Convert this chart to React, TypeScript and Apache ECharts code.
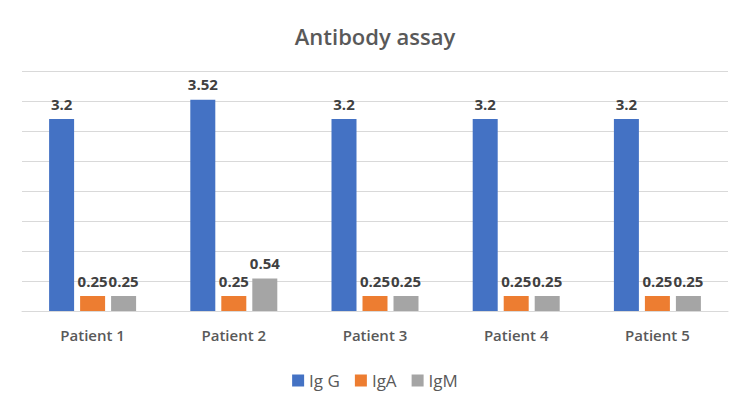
import React, { useEffect, useRef } from "react";
import * as echarts from "echarts";

const categories = ["Patient 1", "Patient 2", "Patient 3", "Patient 4", "Patient 5"];
const igG = [3.2, 3.52, 3.2, 3.2, 3.2];
const igA = [0.25, 0.25, 0.25, 0.25, 0.25];
const igM = [0.25, 0.54, 0.25, 0.25, 0.25];
const seriesNames = ["Ig G", "IgA", "IgM"];
const colors = ["#4472C4", "#ED7D31", "#A5A5A5"];

export default function App() {
  const ref = useRef<HTMLDivElement>(null);
  useEffect(() => {
    if (!ref.current) return;
    const chart = echarts.init(ref.current, undefined, { renderer: "svg" });
    const font = "'Open Sans', sans-serif";
    const label = {
      show: true,
      position: "top" as const,
      distance: 8,
      color: "#404040",
      fontSize: 15,
      fontWeight: "bold" as const,
      fontFamily: font,
    };
    const datasets = [igG, igA, igM];
    chart.setOption({
      animation: false,
      backgroundColor: "#fff",
      title: {
        text: "Antibody assay",
        left: "center",
        top: 20,
        textStyle: { color: "#595959", fontSize: 22, fontWeight: 600, fontFamily: font },
      },
      legend: {
        data: seriesNames,
        left: "center",
        top: 367,
        itemWidth: 12,
        itemHeight: 12,
        itemGap: 15,
        icon: "rect",
        textStyle: { color: "#595959", fontSize: 17, fontFamily: font },
      },
      grid: { left: 22, right: 22, top: 71, bottom: 95, containLabel: false },
      xAxis: {
        type: "category",
        data: categories,
        axisLine: { lineStyle: { color: "#D9D9D9" } },
        axisTick: { show: false },
        axisLabel: { color: "#595959", fontSize: 15, fontWeight: 600, fontFamily: font, margin: 16 },
      },
      yAxis: {
        type: "value",
        min: 0,
        max: 4,
        interval: 0.5,
        axisLabel: { show: false },
        axisLine: { show: false },
        axisTick: { show: false },
        splitLine: { lineStyle: { color: "#D9D9D9" } },
      },
      series: seriesNames.map((name, i) => ({
        name,
        type: "bar",
        data: datasets[i],
        barWidth: 25,
        barGap: "24%",
        itemStyle: { color: colors[i] },
        label,
      })),
    });
    return () => chart.dispose();
  }, []);
  return (
    <div
      style={{
        position: "fixed",
        left: 0,
        top: 0,
        width: 750,
        height: 406,
        boxSizing: "border-box",
        border: "2px solid #D9D9D9",
        background: "#fff",
      }}
    >
      <div ref={ref} style={{ position: "absolute", left: -2, top: -2, width: 750, height: 406 }} />
    </div>
  );
}
